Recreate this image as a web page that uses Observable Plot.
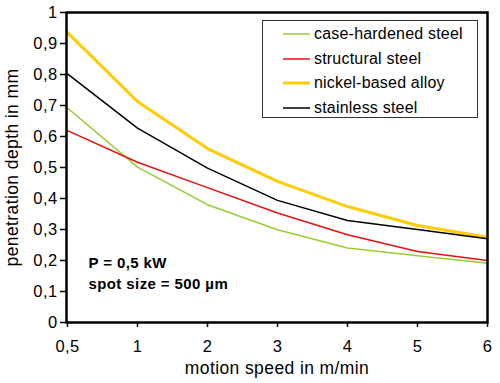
<!DOCTYPE html>
<html>
<head>
<meta charset="utf-8">
<script src="https://cdn.jsdelivr.net/npm/d3@7"></script>
<script src="https://cdn.jsdelivr.net/npm/@observablehq/plot@0.6"></script>
<style>
  html, body { margin: 0; padding: 0; background: #fff; }
  #wrap { position: relative; width: 500px; height: 383px; font-family: "Liberation Sans", Arial, sans-serif; }
  #legend { position: absolute; left: 262px; top: 20px; width: 216px; height: 98px; border: 1px solid #333; background: #fff; box-sizing: border-box; }
  #legend .row { position: absolute; left: 20px; height: 20px; display: flex; align-items: center; font-size: 16px; letter-spacing: 0.2px; color: #000; white-space: nowrap; }
  #legend .row svg { margin-right: 4px; }
</style>
</head>
<body>
<div id="wrap"><div id="legend"></div></div>
<script>
const speeds = ["0,5", "1", "2", "3", "4", "5", "6"];
const seriesNames = ["case-hardened steel", "structural steel", "nickel-based alloy", "stainless steel"];
const caseHardened = [0.692, 0.501, 0.380, 0.299, 0.240, 0.215, 0.191];
const structural   = [0.619, 0.517, 0.435, 0.353, 0.283, 0.229, 0.200];
const nickel       = [0.935, 0.713, 0.561, 0.455, 0.374, 0.313, 0.275];
const stainless    = [0.802, 0.627, 0.498, 0.394, 0.329, 0.300, 0.270];
const yTicks = [0, 0.1, 0.2, 0.3, 0.4, 0.5, 0.6, 0.7, 0.8, 0.9, 1];
const colors = ["#99cc33", "#e41010", "#ffcc00", "#000000"];
const widths = [1.5, 1.5, 3, 1.5];
const annotation = ["P = 0,5 kW", "spot size = 500 µm"];

const allValues = [caseHardened, structural, nickel, stainless];
const data = [];
allValues.forEach((vals, si) => vals.forEach((v, i) => data.push({series: seriesNames[si], speed: speeds[i], depth: v})));

const fmt = d => String(d).replace(".", ",");
const font = "Liberation Sans, Arial, sans-serif";

const chart = Plot.plot({
  width: 500,
  height: 383,
  marginLeft: 66,
  marginRight: 13,
  marginTop: 12,
  marginBottom: 61,
  style: {fontFamily: font, background: "#fff", color: "#000", letterSpacing: "0.4px"},
  x: {type: "point", domain: speeds, padding: 0, inset: 0},
  y: {domain: [0, 1]},
  marks: [
    Plot.axisY({ticks: yTicks, tickFormat: fmt, tickSize: 6, tickPadding: 3, fontSize: 16.5, label: null, stroke: "#000", strokeWidth: 1.5}),
    Plot.axisX({tickSize: 5, tickPadding: 13, fontSize: 16.5, label: null, stroke: "#000", strokeWidth: 1.5}),
    ...seriesNames.map((name, si) =>
      Plot.line(data.filter(d => d.series === name), {x: "speed", y: "depth", stroke: colors[si], strokeWidth: widths[si], strokeLinejoin: "round"})
    ),
    Plot.frame({stroke: "#000", strokeWidth: 2.5}),
    Plot.text(["penetration depth in mm"], {frameAnchor: "left", textAnchor: "middle", rotate: -90, dx: -54, fontSize: 17.5, fill: "#000"}),
    Plot.text(["motion speed in m/min"], {frameAnchor: "bottom", dy: 51, fontSize: 17.5, fill: "#000"}),
    Plot.text([annotation.join("\n")], {frameAnchor: "bottom-left", dx: 22, dy: -34, textAnchor: "start", lineAnchor: "bottom", lineHeight: 1.35, fontSize: 15, fontWeight: "bold", fill: "#000"})
  ]
});
document.getElementById("wrap").prepend(chart);

const legend = document.getElementById("legend");
seriesNames.forEach((name, si) => {
  const row = document.createElement("div");
  row.className = "row";
  row.style.top = (3 + si * 24.5) + "px";
  row.innerHTML = `<svg width="27" height="10"><line x1="0" x2="27" y1="5" y2="5" stroke="${colors[si]}" stroke-width="${widths[si] === 3 ? 3 : 1.5}"/></svg><span>${name}</span>`;
  legend.appendChild(row);
});
</script>
</body>
</html>
